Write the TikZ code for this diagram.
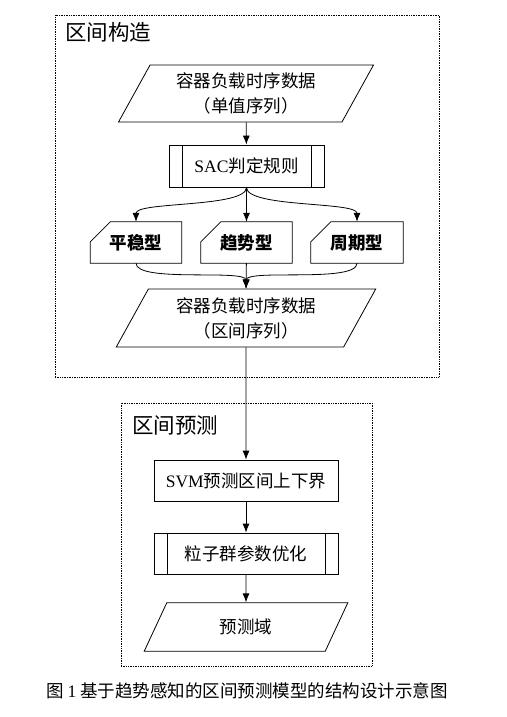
\documentclass[tikz,border=0pt]{standalone}
\usepackage{fontspec}
\setmainfont{Liberation Serif}
\newfontfamily\cjk{Noto Sans CJK SC}
\usetikzlibrary{shapes,arrows,arrows.meta,positioning,calc}

\begin{document}
\begin{tikzpicture}[
    x=1pt,y=-1pt,
    every node/.style={font=\fontsize{17.5}{25}\selectfont\cjk},
    datanode/.style={draw,trapezium,trapezium left angle=61,trapezium right angle=119,minimum width=254pt,minimum height=57pt,inner sep=0pt,align=center,line width=0.8pt},
    procnode/.style={draw,rectangle,minimum height=41pt,line width=0.8pt},
    subproc/.style={procnode,path picture={
        \draw[line width=0.8pt] ([xshift=13pt]path picture bounding box.north west) -- ([xshift=13pt]path picture bounding box.south west);
        \draw[line width=0.8pt] ([xshift=-13pt]path picture bounding box.north east) -- ([xshift=-13pt]path picture bounding box.south east);}},
    typenode/.style={rectangle,minimum width=91pt,minimum height=41pt,inner sep=0pt,font=\fontsize{17.5}{25}\selectfont\cjk\bfseries,
        append after command={\pgfextra{
            \draw[line width=0.8pt] ([yshift=-20pt]\tikzlastnode.north west) -- ([xshift=20pt]\tikzlastnode.north west)
                -- (\tikzlastnode.north east) -- (\tikzlastnode.south east) -- (\tikzlastnode.south west) -- cycle;}}},
    groupbox/.style={draw,densely dotted,rectangle,line width=0.7pt},
    grouptitle/.style={anchor=west,inner sep=0pt,font=\fontsize{21.5}{26}\selectfont\cjk},
    link/.style={-{Latex[length=9pt,width=7pt]},line width=0.8pt},
    brace/.style={link,out=-90,in=90,looseness=0.45},
]
\useasboundingbox (0,0) rectangle (506,717);

% Frames
\node[groupbox,minimum width=384pt,minimum height=362pt] (constructbox) at (247,196) {};
\node[grouptitle] (constructtitle) at (65,32) {区间构造};
\node[groupbox,minimum width=251pt,minimum height=263pt] (predictbox) at (246.5,534.5) {};
\node[grouptitle] (predicttitle) at (132,425) {区间预测};

% Interval construction
\node[datanode] (data1) at (246,93.5) {容器负载时序数据\\（单值序列）};
\node[subproc,minimum width=155pt,minimum height=42pt] (sac) at (246.5,166) {{\rmfamily SAC}判定规则};

\node[typenode] (stable) at (136,242.5) {平稳型};
\node[typenode] (trend) at (246.5,242.5) {趋势型};
\node[typenode,minimum width=92pt] (period) at (357,242.5) {周期型};

\node[datanode,minimum height=58pt] (data2) at (246,318) {容器负载时序数据\\（区间序列）};

% Interval prediction
\node[procnode,minimum width=184pt] (svm) at (246,480.5) {{\rmfamily SVM}预测区间上下界};
\node[subproc,minimum width=184pt] (pso) at (246,553.5) {粒子群参数优化};
\node[datanode,trapezium left angle=65,trapezium right angle=115,minimum width=204pt,minimum height=42pt] (result) at (246,627) {预测域};

% Connections
\draw[link] (data1) -- (sac);
\draw[brace] (sac.south) to (stable.north);
\draw[link] (sac) -- (trend);
\draw[brace] (sac.south) to (period.north);
\draw[brace] (stable.south) to (data2.north);
\draw[link] (trend) -- (data2);
\draw[brace] (period.south) to (data2.north);
\draw[link] (data2) -- (svm);
\draw[link] (svm) -- (pso);
\draw[link] (pso) -- (result);

% Caption
\node (caption) at (247,691) {图~{\rmfamily 1}~基于趋势感知的区间预测模型的结构设计示意图};

\end{tikzpicture}
\end{document}
